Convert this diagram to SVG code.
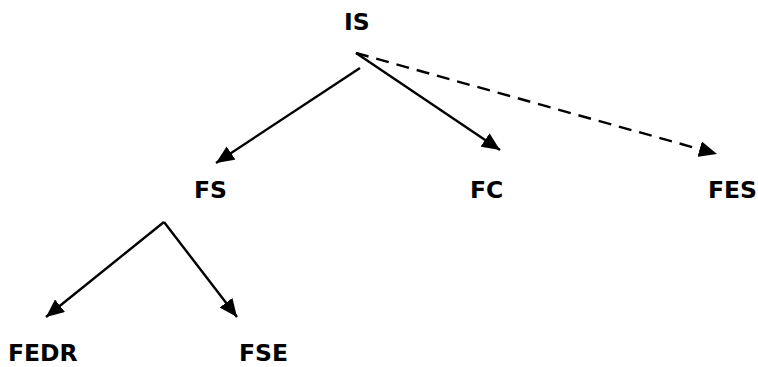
<svg xmlns="http://www.w3.org/2000/svg" width="758" height="367" viewBox="0 0 758 367">
<style>
text{font-family:"DejaVu Sans","Liberation Sans",sans-serif;font-weight:bold;font-size:23.5px;fill:#000}
.c{stroke:#000;stroke-width:2.4;fill:none}
.d{stroke-dasharray:13,8}
</style>
<defs>
<marker id="ah" markerWidth="20" markerHeight="16" refX="18" refY="8" orient="auto" markerUnits="userSpaceOnUse">
<path d="M0,0 L18,8 L0,16 z" fill="#000"/>
</marker>
</defs>
<g id="connectors">
<line class="c" x1="360" y1="68" x2="216" y2="163" marker-end="url(#ah)"/>
<line class="c" x1="356" y1="53" x2="500" y2="150" marker-end="url(#ah)"/>
<line class="c d" x1="356" y1="53" x2="717" y2="154" marker-end="url(#ah)"/>
<line class="c" x1="164" y1="222" x2="46" y2="317" marker-end="url(#ah)"/>
<line class="c" x1="164" y1="222" x2="237" y2="317" marker-end="url(#ah)"/>
</g>
<g id="IS"><text x="344" y="30">IS</text></g>
<g id="FS"><text x="194" y="198">FS</text></g>
<g id="FC"><text x="470" y="198">FC</text></g>
<g id="FES"><text x="708" y="198">FES</text></g>
<g id="FEDR"><text x="8" y="361">FEDR</text></g>
<g id="FSE"><text x="239" y="361">FSE</text></g>
</svg>
